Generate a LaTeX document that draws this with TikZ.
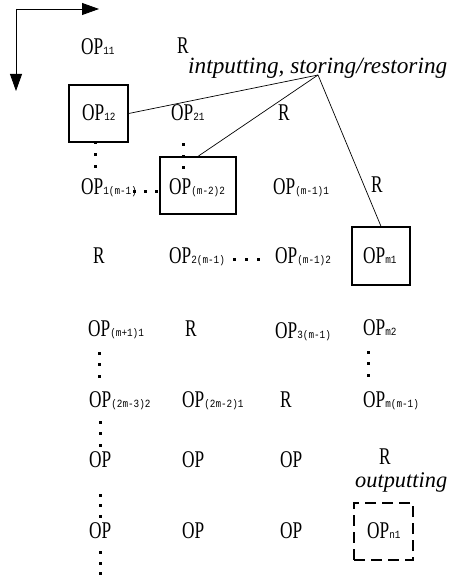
\documentclass[tikz,border=0pt]{standalone}
\usepackage{fontspec}
\setmainfont{Liberation Serif}
\newfontfamily\subfont{Liberation Mono}
\usetikzlibrary{arrows.meta}
\newcommand{\OPt}[1]{\scalebox{0.72}[1]{OP}\scalebox{0.85}[1]{\subfont\fontsize{11}{11}\selectfont #1}}
\newcommand{\Rt}{\scalebox{0.72}[1]{R}}
\tikzset{
  txt/.style={anchor=base west, inner sep=0pt, font=\fontsize{24}{24}\selectfont},
  boxn/.style={draw, line width=1.3pt, inner sep=0pt},
  dashbox/.style={draw, line width=1.3pt, dash pattern=on 11pt off 6pt, inner sep=0pt},
  hubline/.style={line width=0.7pt},
  axisarrow/.style={line width=0.8pt, -{Triangle[length=17pt,width=12pt]}},
}
\newcommand{\dotsq}[2]{\fill (#1-1.5,#2-1.5) rectangle (#1+1.5,#2+1.5);}
\begin{document}
\begin{tikzpicture}[x=1pt,y=-1pt]
\useasboundingbox (0,0) rectangle (451,577);
% axes
\coordinate (o) at (16,9);
\coordinate (xe) at (99,9);
\coordinate (ye) at (16,91);
\draw[axisarrow] (o) -- (xe);
\draw[axisarrow] (o) -- (ye);
% boxes
\node[boxn, minimum width=59pt, minimum height=57pt] (b12) at (98.5,113.5) {};
\node[boxn, minimum width=76pt, minimum height=57pt] (b22) at (198,185.5) {};
\node[boxn, minimum width=58pt, minimum height=58pt] (bm1) at (381,256) {};
\node[dashbox, minimum width=59pt, minimum height=57pt] (bn1) at (383.5,531.5) {};
% row 1
\node[txt] (t11) at (81,55) {\OPt{11}};
\node[txt] (r1) at (177,54) {\Rt};
\node[anchor=base west, inner sep=0pt] (lab1) at (188,74) {\resizebox{259pt}{!}{\itshape intputting, storing/restoring}};
% row 2
\node[txt] (t12) at (82,121) {\OPt{12}};
\node[txt] (t21) at (171,121) {\OPt{21}};
\node[txt] (r2) at (278,121) {\Rt};
% row 3
\node[txt] (t1m1) at (81,195) {\OPt{1(m-1)}};
\node[txt] (tm22) at (169,194) {\OPt{(m-2)2}};
\node[txt] (tm11) at (273,194) {\OPt{(m-1)1}};
\node[txt] (r3) at (371,193) {\Rt};
% row 4
\node[txt] (r4) at (93,263) {\Rt};
\node[txt] (t2m1) at (169,263) {\OPt{2(m-1)}};
\node[txt] (tm12) at (275,263) {\OPt{(m-1)2}};
\node[txt] (tm1) at (363,263) {\OPt{m1}};
% row 5
\node[txt] (tmp11) at (88,336) {\OPt{(m+1)1}};
\node[txt] (r5) at (185,336) {\Rt};
\node[txt] (t3m1) at (275,338) {\OPt{3(m-1)}};
\node[txt] (tm2) at (363,335) {\OPt{m2}};
% row 6
\node[txt] (t2m32) at (89,407) {\OPt{(2m-3)2}};
\node[txt] (t2m21) at (182,407) {\OPt{(2m-2)1}};
\node[txt] (r6) at (280,407) {\Rt};
\node[txt] (tmm1) at (363,407) {\OPt{m(m-1)}};
% row 7
\node[txt] (o71) at (89,467) {\OPt{}};
\node[txt] (o72) at (182,467) {\OPt{}};
\node[txt] (o73) at (280,467) {\OPt{}};
\node[txt] (r7) at (379,464) {\Rt};
\node[anchor=base west, inner sep=0pt] (lab2) at (355,487) {\resizebox{92pt}{!}{\itshape outputting}};
% row 8
\node[txt] (o81) at (89,538) {\OPt{}};
\node[txt] (o82) at (182,538) {\OPt{}};
\node[txt] (o83) at (280,538) {\OPt{}};
\node[txt] (tn1) at (367,538) {\OPt{n1}};
% hub lines
\coordinate (hub) at (318,75);
\draw[hubline] (hub) -- (b12.east);
\draw[hubline] (hub) -- (b22.north);
\draw[hubline] (hub) -- (bm1.north);
% dots
\dotsq{95}{143}\dotsq{95}{155}\dotsq{95}{167}
\dotsq{183}{145}\dotsq{183}{157}\dotsq{183}{168}
\dotsq{134}{192}\dotsq{145}{192}\dotsq{156}{192}
\dotsq{234}{259}\dotsq{246}{259}\dotsq{258}{259}
\dotsq{99}{353}\dotsq{99}{364}\dotsq{99}{376}
\dotsq{368}{352}\dotsq{368}{363}\dotsq{368}{375}
\dotsq{100}{422}\dotsq{100}{433}\dotsq{100}{445}
\dotsq{100}{495}\dotsq{100}{505}\dotsq{100}{516}
\dotsq{100}{552}\dotsq{100}{563}\dotsq{100}{573}
\end{tikzpicture}
\end{document}
